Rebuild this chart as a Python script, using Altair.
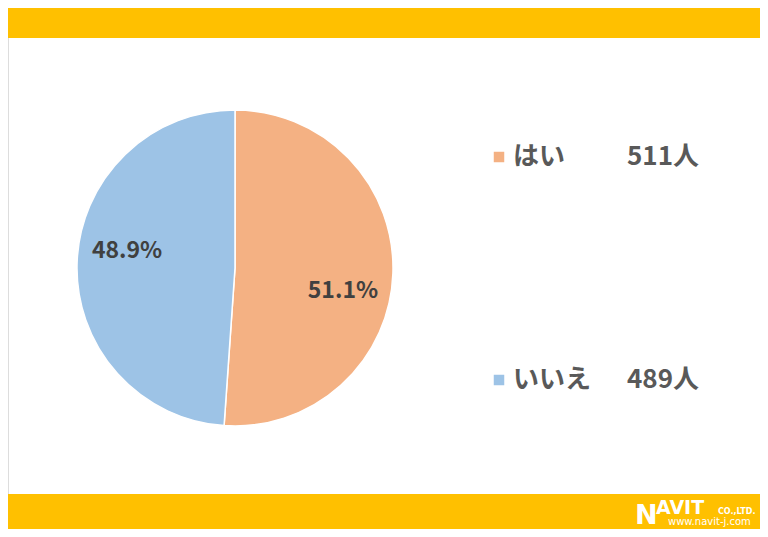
import altair as alt
import pandas as pd

# ---- data ----
cats = ["はい", "いいえ"]
counts = [511, 489]
pct_labels = ["51.1%", "48.9%"]
count_labels = ["511人", "489人"]
colors = ["#F4B183", "#9DC3E6"]

df = pd.DataFrame({
    "cat": cats,
    "count": counts,
    "pct": pct_labels,
    "num": count_labels,
    "idx": list(range(len(cats))),
})

W, H = 752, 521
BAND = "#FFC000"
FONT = "Noto Sans CJK JP"

one = pd.DataFrame({"k": [0]})

top_band = alt.Chart(one).mark_rect(color=BAND).encode(
    x=alt.value(0), x2=alt.value(W), y=alt.value(0), y2=alt.value(30)
)
bottom_band = alt.Chart(one).mark_rect(color=BAND).encode(
    x=alt.value(0), x2=alt.value(W), y=alt.value(486), y2=alt.value(H)
)

color_scale = alt.Scale(domain=cats, range=colors)

pie = alt.Chart(df).mark_arc(
    outerRadius=158, stroke="white", strokeWidth=1.5
).encode(
    theta=alt.Theta("count:Q", stack=True),
    color=alt.Color("cat:N", scale=color_scale, legend=None, sort=cats),
    order=alt.Order("idx:Q"),
    x=alt.value(227),
    y=alt.value(260),
)


def pie_label(cat, dy):
    return alt.Chart(df).mark_text(
        radius=108, font=FONT, fontSize=23, fontWeight="bold",
        color="#404040", dy=dy
    ).encode(
        theta=alt.Theta("count:Q", stack=True),
        detail=alt.Detail("cat:N"),
        order=alt.Order("idx:Q"),
        text=alt.condition(alt.datum.cat == cat, "pct:N", alt.value("")),
        x=alt.value(227),
        y=alt.value(260),
    )


pie_label_a = pie_label(cats[0], 19)
pie_label_b = pie_label(cats[1], -13)

yscale = alt.Scale(type="point", domain=cats, range=[149, 372], padding=0)

squares = alt.Chart(df).mark_square(size=110, opacity=1).encode(
    x=alt.value(491),
    y=alt.Y("cat:N", scale=yscale, axis=None),
    color=alt.Color("cat:N", scale=color_scale, legend=None, sort=cats),
)

legend_cat = alt.Chart(df).mark_text(
    align="left", baseline="middle", font=FONT, fontSize=26,
    fontWeight="bold", color="#595959"
).encode(
    x=alt.value(505),
    y=alt.Y("cat:N", scale=yscale, axis=None),
    text="cat:N",
)

legend_num = alt.Chart(df).mark_text(
    align="left", baseline="middle", font=FONT, fontSize=26,
    fontWeight="bold", color="#595959"
).encode(
    x=alt.value(619),
    y=alt.Y("cat:N", scale=yscale, axis=None),
    text="num:N",
)

logo_n = alt.Chart(one).mark_text(
    align="left", baseline="alphabetic", font="DejaVu Sans", fontSize=27,
    fontWeight="bold", color="white", text="N"
).encode(x=alt.value(627), y=alt.value(516))
logo_avit = alt.Chart(one).mark_text(
    align="left", baseline="alphabetic", font="DejaVu Sans", fontSize=19,
    fontWeight="bold", color="white", text="AVIT"
).encode(x=alt.value(648), y=alt.value(506))
logo_co = alt.Chart(one).mark_text(
    align="left", baseline="alphabetic", font="DejaVu Sans", fontSize=8,
    fontWeight="bold", color="white", text="CO.,LTD."
).encode(x=alt.value(710), y=alt.value(506))
logo_url = alt.Chart(one).mark_text(
    align="left", baseline="alphabetic", font="DejaVu Sans", fontSize=10,
    color="white", text="www.navit-j.com"
).encode(x=alt.value(660), y=alt.value(517))

chart = alt.layer(
    top_band, bottom_band, pie, pie_label_a, pie_label_b, squares,
    legend_cat, legend_num, logo_n, logo_avit, logo_co, logo_url
).properties(
    width=W, height=H, padding=0, autosize=alt.AutoSizeParams(type="none")
).configure_view(
    strokeWidth=0, stroke="transparent"
).configure_axis(
    domain=False, ticks=False, labels=False, grid=False
).configure(background="white")

chart.save("out.html", embed_options={"renderer": "svg", "actions": False})
